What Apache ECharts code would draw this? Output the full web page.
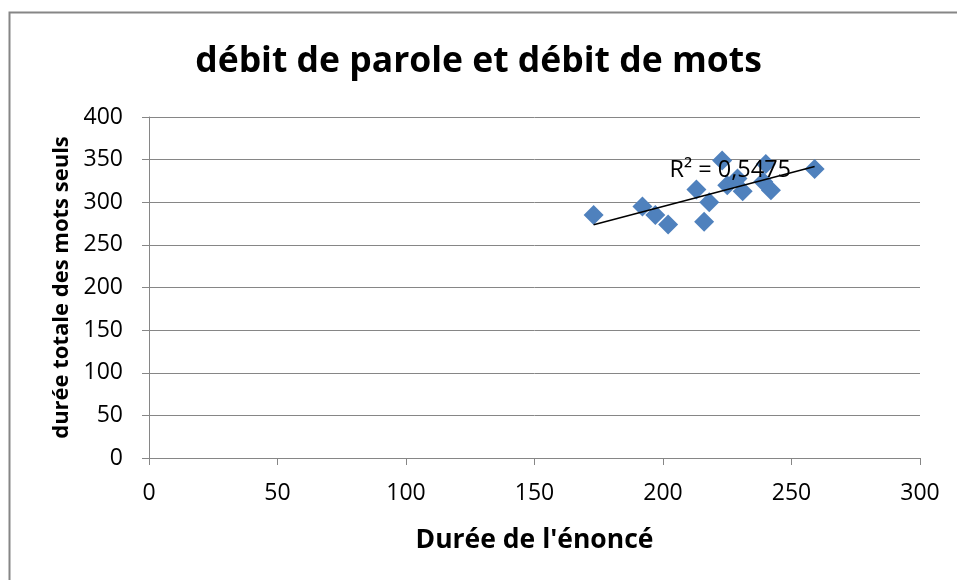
<!DOCTYPE html>
<html>
<head>
<meta charset="utf-8">
<script src="https://cdn.jsdelivr.net/npm/echarts@6/dist/echarts.min.js"></script>
<style>html,body{margin:0;padding:0;background:#fff}#c{width:957px;height:580px}</style>
</head>
<body>
<div id="c"></div>
<script>
var titleText = "débit de parole et débit de mots";
var xName = "Durée de l'énoncé";
var yName = "durée totale des mots seuls";
var r2Label = "R² = 0,5475";
var xTicks = [0, 50, 100, 150, 200, 250, 300];
var yTicks = [0, 50, 100, 150, 200, 250, 300, 350, 400];
var durEnonce = [173, 192, 197, 202, 213, 216, 218, 223, 225, 229, 231, 240, 239, 242, 259];
var durMots   = [285, 295, 285, 274, 315, 277, 300, 349, 320, 328, 313, 345, 324, 314, 339];

var pts = durEnonce.map(function (x, i) { return [x, durMots[i]]; });
// least-squares trendline computed from the data
var n = pts.length, sx = 0, sy = 0, sxx = 0, sxy = 0;
pts.forEach(function (p) { sx += p[0]; sy += p[1]; sxx += p[0] * p[0]; sxy += p[0] * p[1]; });
var slope = (n * sxy - sx * sy) / (n * sxx - sx * sx);
var icpt = (sy - slope * sx) / n;
var xmin = Math.min.apply(null, durEnonce), xmax = Math.max.apply(null, durEnonce);
var trend = [[xmin, icpt + slope * xmin], [xmax, icpt + slope * xmax]];

var font = "'Open Sans', 'Liberation Sans', sans-serif";
var chart = echarts.init(document.getElementById('c'), null, { renderer: 'canvas' });
chart.setOption({
  animation: false,
  backgroundColor: '#fff',
  graphic: [{
    type: 'rect', shape: { x: 9.5, y: 12.5, width: 1000, height: 1000 },
    style: { fill: 'none', stroke: '#868686', lineWidth: 2 }, silent: true
  }],
  title: {
    text: titleText, left: 'center', top: 39,
    textStyle: { fontFamily: font, fontSize: 35.5, fontWeight: 'bold', color: '#000' }
  },
  grid: { left: 149, right: 37, top: 117, bottom: 122 },
  xAxis: {
    type: 'value', min: 0, max: 300, interval: 50,
    name: xName, nameLocation: 'middle', nameGap: 69,
    nameTextStyle: { fontFamily: font, fontSize: 26.5, fontWeight: 'bold', color: '#000' },
    axisLine: { show: true, onZero: false, lineStyle: { color: '#868686', width: 1 } },
    axisTick: { show: true, length: 7, inside: false, lineStyle: { color: '#868686' } },
    axisLabel: { fontFamily: font, fontSize: 23, color: '#000', margin: 24 },
    splitLine: { show: false }
  },
  yAxis: {
    type: 'value', min: 0, max: 400, interval: 50,
    name: yName, nameLocation: 'middle', nameGap: 76, nameRotate: 90,
    nameTextStyle: { fontFamily: font, fontSize: 22, fontWeight: 'bold', color: '#000' },
    axisLine: { show: true, lineStyle: { color: '#868686', width: 1 } },
    axisTick: { show: true, length: 7, inside: false, lineStyle: { color: '#868686' } },
    axisLabel: { fontFamily: font, fontSize: 23, color: '#000', margin: 26 },
    splitLine: { show: true, lineStyle: { color: '#868686', width: 1 } }
  },
  series: [{
    type: 'scatter', data: pts, symbol: 'diamond', symbolSize: 20,
    itemStyle: { color: '#4F81BD', opacity: 1 }, z: 3
  }, {
    type: 'line', data: trend, symbol: 'none', z: 4,
    lineStyle: { color: '#000', width: 1.5 },
    markPoint: {
      symbol: 'rect', symbolSize: 0,
      data: [{ coord: [202.5, 338] }],
      label: {
        show: true, position: 'right', distance: 0, formatter: r2Label,
        fontFamily: font, fontSize: 23.5, color: '#000'
      }
    }
  }]
});
</script>
</body>
</html>
